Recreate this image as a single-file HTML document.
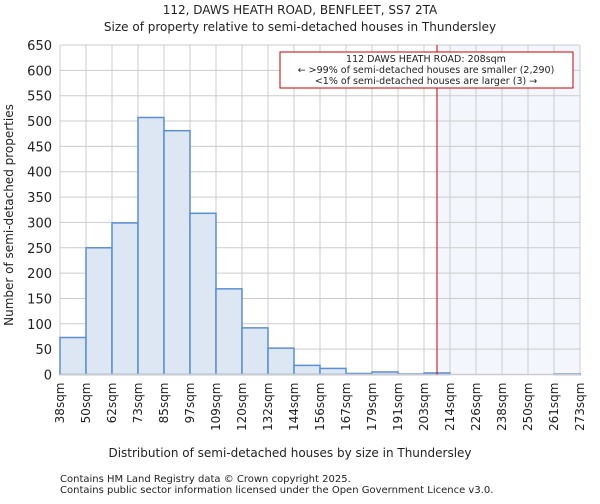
<!DOCTYPE html>
<html><head><meta charset="utf-8"><style>
body{margin:0;background:#fff;font-family:"DejaVu Sans","Liberation Sans",sans-serif;}
svg text{font-family:"DejaVu Sans","Liberation Sans",sans-serif;fill:#222;}
</style></head><body>
<svg id="chart" width="600" height="500" xmlns="http://www.w3.org/2000/svg">
<text x="300" y="14" text-anchor="middle" font-size="12">112, DAWS HEATH ROAD, BENFLEET, SS7 2TA</text>
<text x="300" y="31" text-anchor="middle" font-size="12">Size of property relative to semi-detached houses in Thundersley</text>
<g id="grid"></g><g id="bars"></g><g id="axes"></g>
<text x="290" y="457" text-anchor="middle" font-size="12">Distribution of semi-detached houses by size in Thundersley</text>
<text transform="translate(13,215) rotate(-90)" text-anchor="middle" font-size="12">Number of semi-detached properties</text>
<text x="60" y="482" font-size="10">Contains HM Land Registry data © Crown copyright 2025.</text>
<text x="60" y="493" font-size="10">Contains public sector information licensed under the Open Government Licence v3.0.</text>
</svg>
<script>
const categories=["38sqm","50sqm","62sqm","73sqm","85sqm","97sqm","109sqm","120sqm","132sqm","144sqm","156sqm","167sqm","179sqm","191sqm","203sqm","214sqm","226sqm","238sqm","250sqm","261sqm","273sqm"];
const counts=[73,250,299,507,481,318,169,92,52,18,12,2,5,1,3,0,0,0,0,1];
const yTicks=[0,50,100,150,200,250,300,350,400,450,500,550,600,650];
const markerBin=14.5;
const NS="http://www.w3.org/2000/svg";
const L=60,R=580,T=45,B=374.5,yMax=650;
const bw=(R-L)/counts.length;
const x=i=>L+i*bw;
const y=v=>B-(v/yMax)*(B-T);
function mk(tag,attrs,parent){const e=document.createElementNS(NS,tag);for(const k in attrs)e.setAttribute(k,attrs[k]);parent.appendChild(e);return e;}
const grid=document.getElementById('grid'),bars=document.getElementById('bars'),axes=document.getElementById('axes');
const mx=x(markerBin);
const sh=mk('rect',{x:mx,y:T,width:R-mx,height:B-T,fill:'#f3f6fd'},grid);


yTicks.forEach(v=>{
 const g=mk('line',{x1:L,x2:R,y1:y(v),y2:y(v),stroke:'#ccc','stroke-width':1},grid);
 
 
 const t=mk('text',{x:L-8,y:y(v)+5,'text-anchor':'end','font-size':13},axes);
 t.textContent=v;
 
 
});
categories.forEach((c,i)=>{
 const g=mk('line',{x1:x(i),x2:x(i),y1:T,y2:B,stroke:'#ccc','stroke-width':1},grid);
 
 
 const tx=x(i)+4;
 const t=mk('text',{x:0,y:0,'text-anchor':'end','font-size':12,transform:`translate(${tx},${B+8}) rotate(-90)`},axes);
 t.textContent=c;
 
 
});
counts.forEach((v,i)=>{
 const r=mk('rect',{x:x(i),y:y(v),width:bw,height:B-y(v),fill:'#dde6f3',stroke:'#5b8fd4','stroke-width':1.5},bars);
 
 
});
const ax=mk('line',{x1:L,x2:R,y1:B,y2:B,stroke:'#ccc','stroke-width':1.5},axes);


const ml=mk('line',{x1:mx,x2:mx,y1:T,y2:B,stroke:'#cc0000','stroke-width':1},axes);


const box=mk('rect',{x:280,y:52,width:293,height:36,fill:'#fff',stroke:'#cc0000','stroke-width':1},axes);


["112 DAWS HEATH ROAD: 208sqm","← >99% of semi-detached houses are smaller (2,290)","<1% of semi-detached houses are larger (3) →"].forEach((s,k)=>{
 const t=mk('text',{x:426,y:62+k*11,'text-anchor':'middle','font-size':9.5},axes);
 t.textContent=s;
 
 
});
</script>
</body></html>
